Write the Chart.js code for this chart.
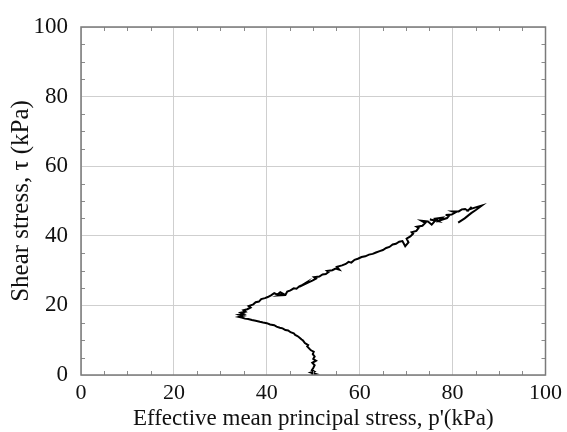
<!DOCTYPE html>
<html>
<head>
<meta charset="utf-8">
<script src="https://cdn.jsdelivr.net/npm/chart.js@4.4.0/dist/chart.umd.min.js"></script>
<style>
html,body{margin:0;padding:0;background:#fff;}
#wrap{width:567px;height:432px;position:relative;}
</style>
</head>
<body>
<div id="wrap"><canvas id="c" width="567" height="432"></canvas></div>
<script>
// Effective mean principal stress p' (kPa)
const pPrime = [49.6,50.5,49.5,50.2,49.7,50.0,50.3,49.8,50.6,50.0,50.3,49.9,50.1,49.5,
49.2,48.7,48.9,48.2,47.8,47.5,47.0,46.6,46.1,45.8,45.1,44.6,44.0,43.4,42.8,42.1,41.6,40.7,40.0,39.2,38.5,37.6,36.8,36.0,35.3,34.6,34.0,
34.9,34.1,35.0,34.4,35.4,35.0,35.8,36.5,36.1,37.1,37.6,38.3,38.8,39.6,40.2,40.9,41.6,42.3,42.9,43.6,42.7,44.0,44.4,45.1,45.8,46.4,47.0,47.7,48.3,48.0,49.1,49.8,50.6,50.2,51.3,52.0,52.7,53.3,53.0,54.1,54.8,55.6,55.1,56.2,57.0,57.6,58.2,58.9,59.6,
60.4,61.2,62.0,62.8,63.5,64.3,65.0,65.7,66.4,67.1,67.8,68.5,69.2,69.8,70.5,70.1,70.9,71.5,71.2,72.2,72.7,72.3,73.5,74.1,73.3,74.7,75.5,76.3,75.1,77.0,76.3,77.8,77.2,78.8,79.3,78.5,79.8,80.6,80.0,81.3,82.0,82.7,83.3,84.1,83.6,85.3,86.3,85.0,84.0,82.6,81.2];
// Shear stress tau (kPa)
const tau = [0.1,0.3,0.7,1.0,1.4,2.0,2.8,3.5,4.1,4.6,5.3,6.0,6.7,7.1,
7.5,8.2,8.6,9.2,9.9,10.2,10.8,11.2,11.5,12.0,12.3,12.8,12.9,13.4,13.6,13.9,14.3,14.5,14.9,15.1,15.3,15.6,15.8,16.1,16.2,16.5,16.7,
17.0,17.3,17.5,17.9,18.2,18.6,18.9,19.4,19.8,20.3,20.9,21.1,21.8,22.1,22.4,22.9,23.5,23.1,23.8,23.3,22.9,23.0,24.0,24.3,24.9,24.8,25.5,25.9,26.4,26.0,26.7,27.1,27.7,28.1,28.3,28.9,29.0,29.6,29.9,30.1,30.6,30.3,31.1,31.5,31.9,32.5,32.3,33.1,33.4,
33.9,34.1,34.6,34.8,35.2,35.6,35.9,36.5,36.8,37.5,37.7,38.3,38.5,37.0,38.1,39.2,39.8,40.6,41.0,41.4,42.3,42.6,42.9,43.7,44.3,44.1,43.2,44.4,44.7,44.2,44.9,45.2,44.4,45.1,45.9,46.0,46.1,46.7,47.0,47.0,47.6,47.7,47.2,48.3,47.6,48.3,48.7,47.4,46.5,45.0,43.8];
const xTicks = [0,20,40,60,80,100];
const yTicks = [0,20,40,60,80,100];
const xTitle = "Effective mean principal stress, p'(kPa)";
const yTitle = "Shear stress, \u03C4 (kPa)";

const pts = pPrime.map((v,i)=>({x:v,y:tau[i]}));
const FONT = "'Liberation Serif','Times New Roman',serif";

const frame = {
  id:'frame',
  afterDraw(chart){
    const {ctx, chartArea:a, scales:{x,y}} = chart;
    ctx.save();
    ctx.strokeStyle = '#8a8a8a';
    ctx.lineWidth = 1;
    ctx.beginPath();
    for(let v=5; v<100; v+=5){
      if(v%20===0) continue;
      const px = Math.round(x.getPixelForValue(v))+0.5;
      ctx.moveTo(px,a.bottom); ctx.lineTo(px,a.bottom-4);
      ctx.moveTo(px,a.top); ctx.lineTo(px,a.top+4);
      const py = Math.round(y.getPixelForValue(v))+0.5;
      ctx.moveTo(a.left,py); ctx.lineTo(a.left+4,py);
      ctx.moveTo(a.right,py); ctx.lineTo(a.right-4,py);
    }
    ctx.stroke();
    ctx.strokeStyle = '#7a7a7a';
    ctx.lineWidth = 1.5;
    ctx.strokeRect(a.left, a.top, a.right-a.left, a.bottom-a.top);
    ctx.restore();
  }
};

new Chart(document.getElementById('c'), {
  type:'scatter',
  data:{datasets:[{
    data:pts, showLine:true, borderColor:'#000', borderWidth:2,
    pointRadius:0, tension:0, fill:false, borderJoinStyle:'miter'
  }]},
  options:{
    responsive:false, animation:false, devicePixelRatio:1,
    layout:{padding:{left:0,right:19,top:27,bottom:0}},
    plugins:{legend:{display:false}, tooltip:{enabled:false}},
    scales:{
      x:{
        type:'linear', min:0, max:100,
        afterBuildTicks(s){ s.ticks = xTicks.map(v=>({value:v})); },
        afterFit(s){ s.height = 57; },
        grid:{color:'#cfcfcf', lineWidth:1, drawTicks:false},
        border:{display:false},
        ticks:{color:'#111', font:{family:FONT,size:22}, padding:5, maxRotation:0},
        title:{display:true, text:xTitle, color:'#111', font:{family:FONT,size:23}, padding:{top:0,bottom:-1}}
      },
      y:{
        type:'linear', min:0, max:100,
        afterBuildTicks(s){ s.ticks = yTicks.map(v=>({value:v})); },
        afterFit(s){ s.width = 81; },
        grid:{color:'#cfcfcf', lineWidth:1, drawTicks:false},
        border:{display:false},
        ticks:{color:'#111', font:{family:FONT,size:23}, padding:13},
        title:{display:true, text:yTitle, color:'#111', font:{family:FONT,size:25}, padding:{top:6,bottom:0}}
      }
    }
  },
  plugins:[frame]
});
</script>
</body>
</html>
